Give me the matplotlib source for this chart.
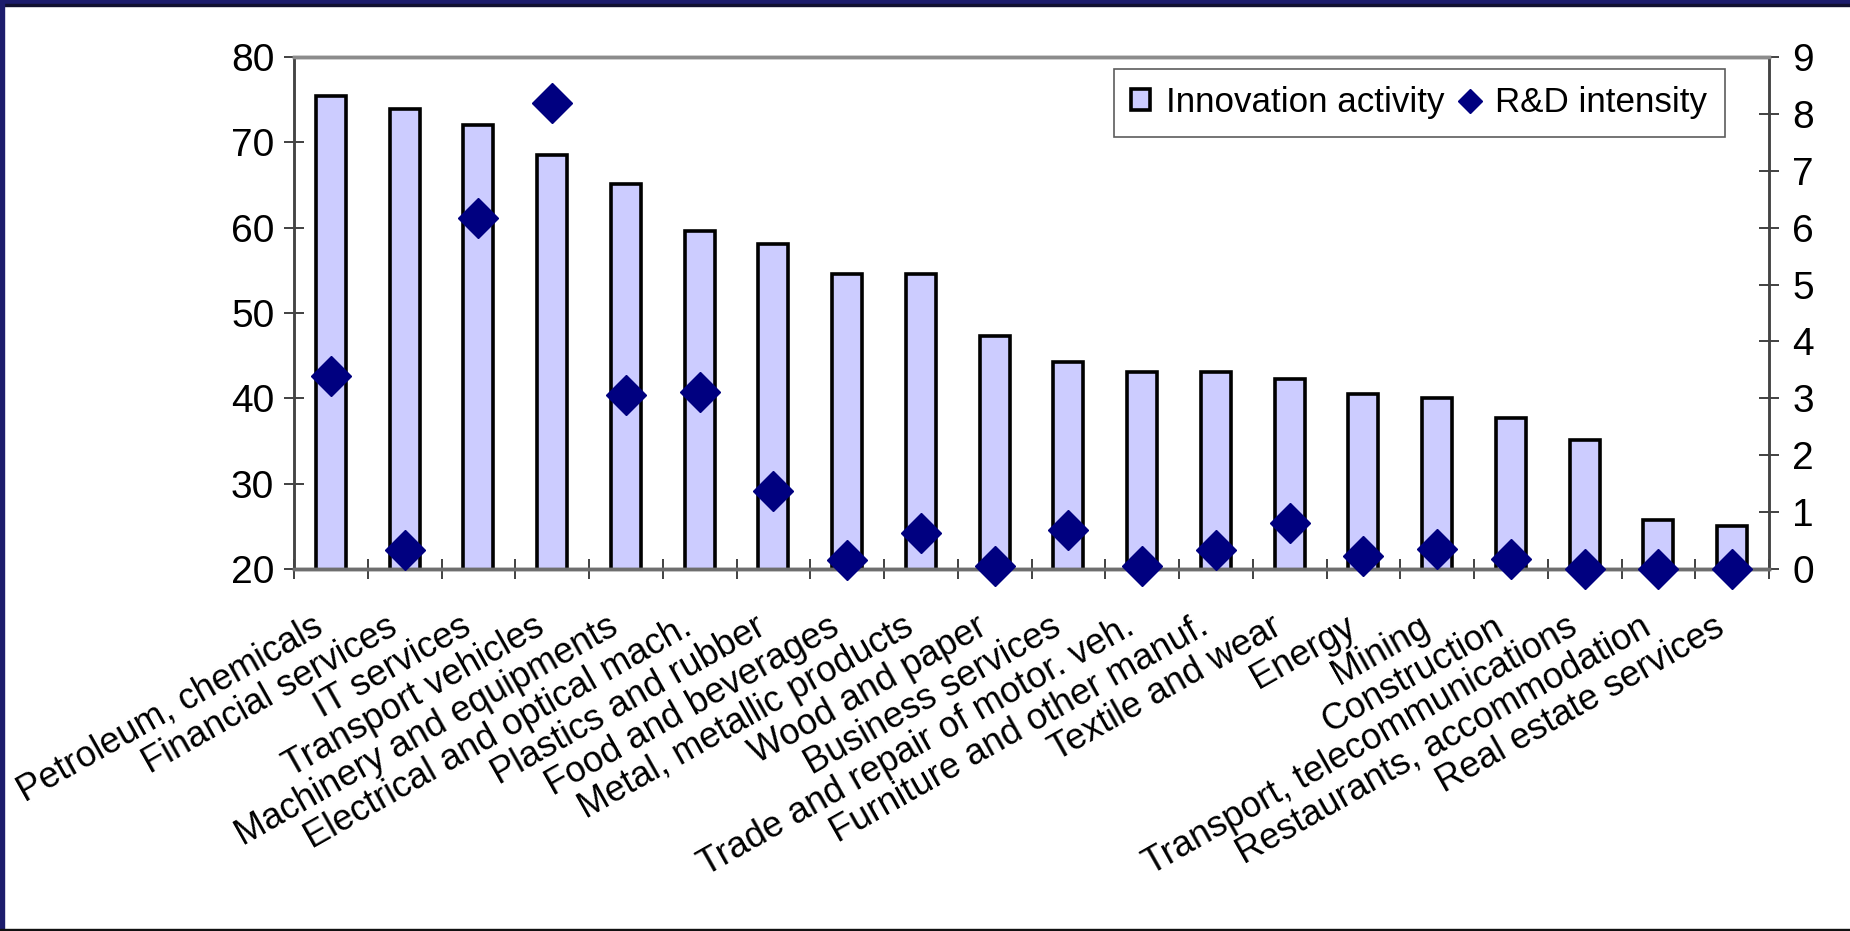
import numpy as np
import matplotlib
matplotlib.use("Agg")
import matplotlib.pyplot as plt
from matplotlib.patches import Rectangle
from matplotlib.transforms import ScaledTranslation

plt.rcParams['font.family'] = ['Liberation Sans', 'DejaVu Sans']

sectors = [
    "Petroleum, chemicals", "Financial services", "IT services",
    "Transport vehicles", "Machinery and equipments",
    "Electrical and optical mach.", "Plastics and rubber",
    "Food and beverages", "Metal, metallic products", "Wood and paper",
    "Business services", "Trade and repair of motor. veh.",
    "Furniture and other manuf.", "Textile and wear", "Energy", "Mining",
    "Construction", "Transport, telecommunications",
    "Restaurants, accommodation", "Real estate services",
]
innovation = [75.4, 73.9, 72.0, 68.5, 65.1, 59.6, 58.1, 54.6, 54.6, 47.3,
              44.3, 43.1, 43.1, 42.3, 40.5, 40.0, 37.7, 35.1, 25.7, 25.0]
rd_intensity = [3.40, 0.33, 6.17, 8.20, 3.05, 3.11, 1.37, 0.16, 0.63, 0.06,
                0.69, 0.06, 0.34, 0.81, 0.23, 0.35, 0.18, 0.0, 0.0, 0.0]

left_ticks = [20, 30, 40, 50, 60, 70, 80]
right_ticks = list(range(0, 10))

fig = plt.figure(figsize=(18.5, 9.31), dpi=100)
ax = fig.add_axes([294 / 1850, 1 - 569 / 931, 1475 / 1850, 512 / 931])
ax2 = ax.twinx()

x = np.arange(len(sectors))
bars = ax.bar(x, innovation, width=0.41, color='#CCCCFF', edgecolor='black',
              linewidth=2.6, label='Innovation activity', zorder=2)
dots, = ax2.plot(x, rd_intensity, linestyle='none', marker='D',
                 markersize=20, color='#000080', clip_on=False,
                 label='R&D intensity', zorder=5)

ax.set_xlim(-0.5, len(sectors) - 0.5)
ax.set_ylim(20, 80)
ax2.set_ylim(0, 9)
ax.set_yticks(left_ticks)
ax2.set_yticks(right_ticks)

# tick marks sit between categories, names on hidden minor ticks
ax.set_xticks(np.arange(len(sectors) + 1) - 0.5)
ax.set_xticklabels([])
ax.set_xticks(x, sectors, minor=True)
ax.tick_params(axis='x', which='minor', length=0, pad=29, labelsize=26)
for lab in ax.get_xticklabels(minor=True):
    lab.set_rotation(29.5)
    lab.set_ha('right')
    lab.set_va('top')
    lab.set_rotation_mode('anchor')
    lab.set_transform(lab.get_transform() +
                      ScaledTranslation(-0.19, 0, fig.dpi_scale_trans))

tick_len = 14.4
ax.tick_params(axis='x', which='major', direction='inout', length=tick_len,
               width=1.3, color='#333333')
ax.tick_params(axis='y', direction='inout', length=tick_len, width=1.3,
               color='#333333', labelsize=28, pad=7)
ax2.tick_params(axis='y', direction='inout', length=tick_len, width=1.3,
                color='#333333', labelsize=28, pad=9.5)

for a in (ax, ax2):
    a.spines['left'].set_color('#444444')
    a.spines['left'].set_linewidth(1.8)
    a.spines['right'].set_color('#444444')
    a.spines['right'].set_linewidth(1.8)
    a.spines['top'].set_color('#8c8c8c')
    a.spines['top'].set_linewidth(2.5)
    a.spines['bottom'].set_color('#6e6e6e')
    a.spines['bottom'].set_linewidth(2.5)

leg = ax2.legend([bars, dots], ['Innovation activity', 'R&D intensity'],
                 loc='upper right', bbox_to_anchor=(0.970, 0.977),
                 borderaxespad=0, ncol=2, fontsize=25.2, frameon=True,
                 fancybox=False, shadow=False, handlelength=0.55,
                 handleheight=0.55, handletextpad=0.45, columnspacing=0.45,
                 borderpad=0.5, markerscale=0.6)
leg.get_frame().set_edgecolor('#333333')
leg.get_frame().set_linewidth(1.2)

# slide frame: navy band on top and left, thin dark rule at the bottom
fig.patches.append(Rectangle((0, 1 - 4 / 931), 1, 4 / 931,
                             transform=fig.transFigure, color='#1c1c6c',
                             zorder=10))
fig.patches.append(Rectangle((0, 1 - 5.5 / 931), 1, 1.5 / 931,
                             transform=fig.transFigure, color='#101030',
                             zorder=10))
fig.patches.append(Rectangle((0, 0), 4 / 1850, 1,
                             transform=fig.transFigure, color='#1c1c6c',
                             zorder=10))
fig.patches.append(Rectangle((0, 0), 1, 2 / 931,
                             transform=fig.transFigure, color='#111111',
                             zorder=10))

fig.savefig('out.png', dpi=100)
